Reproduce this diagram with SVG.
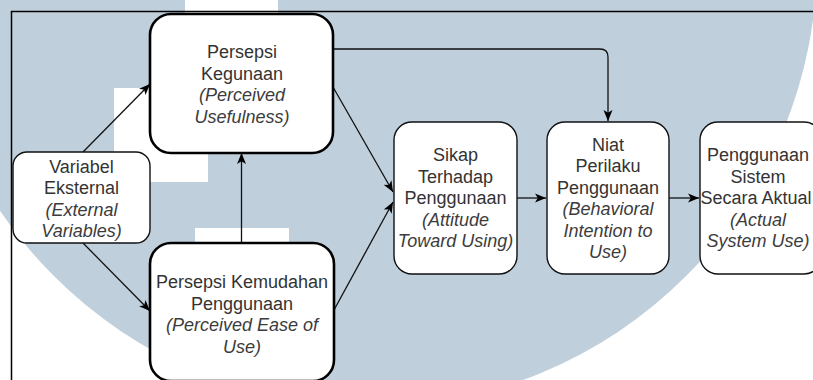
<svg xmlns="http://www.w3.org/2000/svg" width="813" height="380" viewBox="0 0 813 380">
  <style>
    .t { font-family: "Liberation Sans", Arial, sans-serif; font-size: 18px; fill: #333; text-anchor: middle; }
    .i { font-style: italic; fill: #3c3c3c; }
    .box { fill: #fff; stroke: #111; stroke-width: 1.4; }
    .bold { fill: #fff; stroke: #000; stroke-width: 2.6; }
    .conn { fill: none; stroke: #111; stroke-width: 1.3; marker-end: url(#arr); }
  </style>
  <defs>
    <marker id="arr" markerWidth="12" markerHeight="11" refX="11" refY="5.5" orient="auto" markerUnits="userSpaceOnUse">
      <path d="M0,1 L11,5.5 L0,10 L2.8,5.5 Z" fill="#000"/>
    </marker>
  </defs>

  <!-- watermark background -->
  <rect x="0" y="0" width="813" height="380" fill="#fff"/>
  <circle cx="370" cy="-40" r="447" fill="#bfcfdc"/>
  <rect x="185" y="0" width="93" height="20" fill="#fff"/>
  <rect x="114" y="88" width="94" height="94" fill="#fff"/>
  <rect x="195" y="228" width="94" height="30" fill="#fff"/>

  <!-- frame -->
  <path d="M11.5,385 L11.5,11.5 L820,11.5" fill="none" stroke="#000" stroke-width="1.5"/>

  <g id="connectors">
    <path class="conn" d="M83,152 L150,84"/>
    <path class="conn" d="M83,243 L150,311"/>
    <path class="conn" d="M241.5,243 L241.5,153"/>
    <path class="conn" d="M333,87 L393,192"/>
    <path class="conn" d="M334,310 L393,202"/>
    <path class="conn" d="M333,49 L600,49 Q608,49 608,57 L608,121"/>
    <path class="conn" d="M517,198 L546,198"/>
    <path class="conn" d="M669,198 L699,198"/>
  </g>

  <g id="node-pu">
    <rect class="bold" x="150" y="14" width="183" height="139" rx="21"/>
    <text class="t" x="242" y="58">Persepsi</text>
    <text class="t" x="242" y="79.5">Kegunaan</text>
    <text class="t i" x="242" y="101">(Perceived</text>
    <text class="t i" x="242" y="122.5">Usefulness)</text>
  </g>

  <g id="node-ev">
    <rect class="box" x="13" y="152" width="137" height="91" rx="14"/>
    <text class="t" x="81.5" y="172.5">Variabel</text>
    <text class="t" x="81.5" y="194">Eksternal</text>
    <text class="t i" x="81.5" y="215.5">(External</text>
    <text class="t i" x="81.5" y="237">Variables)</text>
  </g>

  <g id="node-peou">
    <rect class="bold" x="150" y="243" width="184" height="138" rx="21"/>
    <text class="t" x="242" y="288">Persepsi Kemudahan</text>
    <text class="t" x="242" y="309.5">Penggunaan</text>
    <text class="t i" x="242" y="331">(Perceived Ease of</text>
    <text class="t i" x="242" y="352.5">Use)</text>
  </g>

  <g id="node-atu">
    <rect class="box" x="394" y="122" width="123" height="152" rx="18"/>
    <text class="t" x="455.5" y="161">Sikap</text>
    <text class="t" x="455.5" y="182.5">Terhadap</text>
    <text class="t" x="455.5" y="204">Penggunaan</text>
    <text class="t i" x="455.5" y="225.5">(Attitude</text>
    <text class="t i" x="455.5" y="247">Toward Using)</text>
  </g>

  <g id="node-bi">
    <rect class="box" x="547" y="122" width="122" height="152" rx="18"/>
    <text class="t" x="608" y="150.5">Niat</text>
    <text class="t" x="608" y="172">Perilaku</text>
    <text class="t" x="608" y="193.5">Penggunaan</text>
    <text class="t i" x="608" y="215">(Behavioral</text>
    <text class="t i" x="608" y="236.5">Intention to</text>
    <text class="t i" x="608" y="258">Use)</text>
  </g>

  <g id="node-asu">
    <rect class="box" x="700" y="122" width="122" height="152" rx="18"/>
    <text class="t" x="758" y="161">Penggunaan</text>
    <text class="t" x="758" y="182.5">Sistem</text>
    <text class="t" x="756" y="204">Secara Aktual</text>
    <text class="t i" x="758" y="225.5">(Actual</text>
    <text class="t i" x="758" y="247">System Use)</text>
  </g>
</svg>
